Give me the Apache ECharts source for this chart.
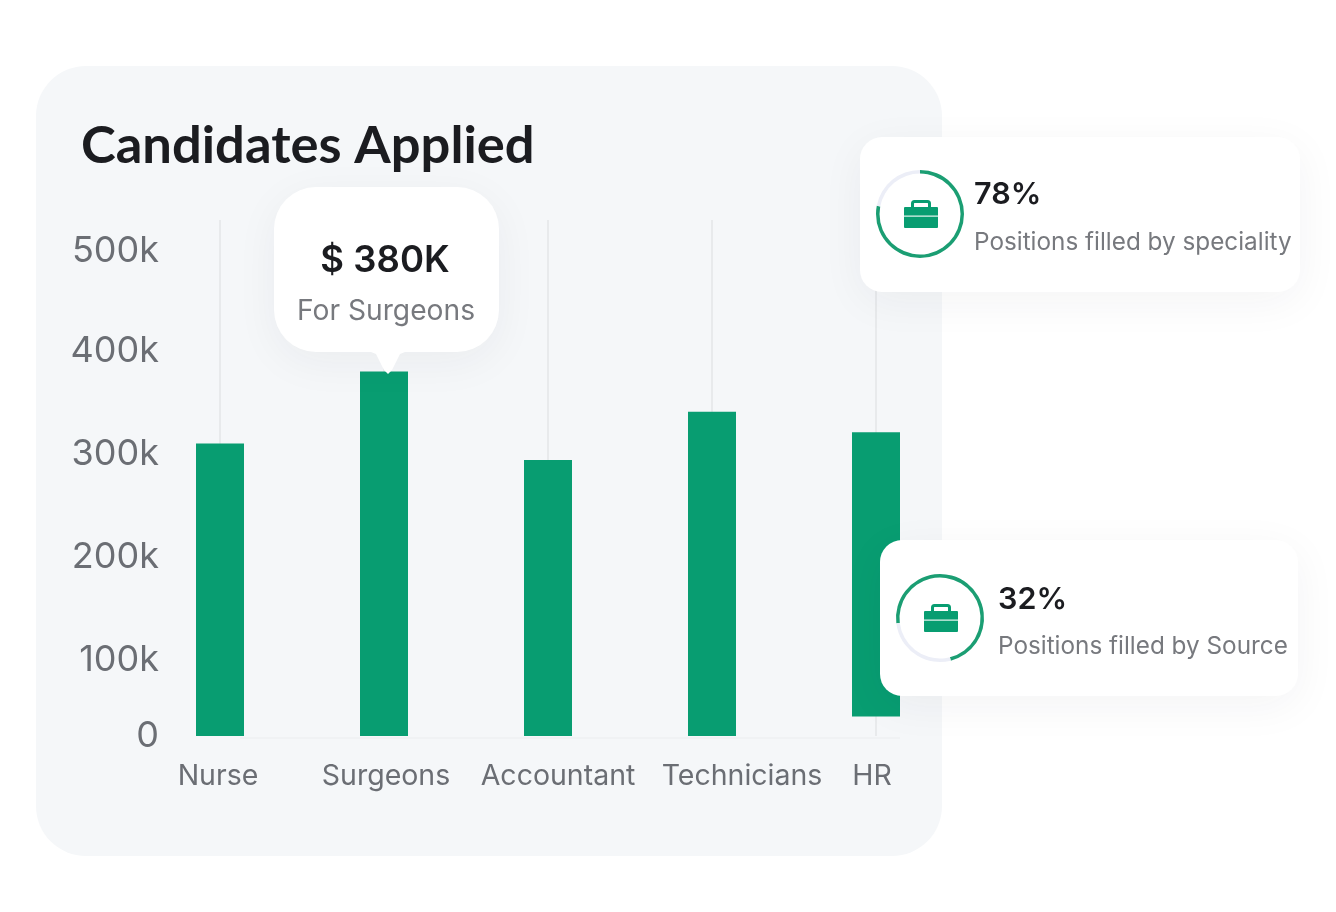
<!DOCTYPE html>
<html>
<head>
<meta charset="utf-8">
<title>Candidates Applied</title>
<script src="https://cdn.jsdelivr.net/npm/echarts@6/dist/echarts.min.js"></script>
<style>
    html, body { margin: 0; padding: 0; background: #fff; }
    #chart { width: 1336px; height: 912px; }
</style>
</head>
<body>
<div id="chart"></div>
<script>
// chart data (values in thousands)
const categories = ['Nurse', 'Surgeons', 'Accountant', 'Technicians', 'HR'];
const candidates = [310, 380, 294, 341, 276];
// the HR bar floats above the baseline in the original
const barOffset = [0, 0, 0, 0, 45];
// the original axis is not linear: its "0" sits at about 26k, its "500k" a little low
const yTickValues = [26, 100, 200, 300, 400, 497];
const yTickLabels = ['0', '100k', '200k', '300k', '400k', '500k'];

const calloutValue = '$ 380K';
const calloutLabel = 'For Surgeons';
const cardValues = ['78%', '32%'];
const cardLabels = ['Positions filled by speciality', 'Positions filled by Source'];
// share of the ring that is drawn green, as pictured
const ringShares = [78, 73];

const colors = {
    green: '#089d71',
    ring: '#1b9e73',
    ringTrack: '#eceef7',
    panel: '#f5f7f9',
    dark: '#1b1c20',
    grey: '#6b6e74',
    lightGrey: '#77797e',
    line: '#e8eaec'
};
const FONT = 'Inter';

const cardShadow = { shadowBlur: 44, shadowColor: 'rgba(30,40,60,0.05)', shadowOffsetY: 10 };

// 公文包图标
function briefcase(cx, top) {
    return [
        { type: 'rect', z: 110, silent: true, shape: { x: cx - 8.5, y: top + 1.5, width: 17, height: 8, r: 2 },
          style: { fill: 'none', stroke: colors.green, lineWidth: 3 } },
        { type: 'rect', z: 111, silent: true, shape: { x: cx - 17, y: top + 7, width: 34, height: 21, r: 1 },
          style: { fill: colors.green } },
        { type: 'rect', z: 112, silent: true, shape: { x: cx - 17, y: top + 15.5, width: 34, height: 1.2 },
          style: { fill: '#dff3ec' } }
    ];
}

function card(x, y, w, h, index, textX, valueY, labelY) {
    return [
        { type: 'rect', z: 100, silent: true, shape: { x: x, y: y, width: w, height: h, r: 22 },
          style: Object.assign({ fill: '#fff' }, cardShadow) },
        { type: 'text', z: 110, silent: true, x: textX, y: valueY,
          style: { text: cardValues[index], fill: colors.dark, font: '600 30.5px ' + FONT, verticalAlign: 'middle' } },
        { type: 'text', z: 110, silent: true, x: textX, y: labelY,
          style: { text: cardLabels[index], fill: colors.lightGrey, font: '400 24.3px ' + FONT, verticalAlign: 'middle' } }
    ];
}

function ring(cx, cy, startAngle, share) {
    return {
        type: 'pie',
        z: 120,
        silent: true,
        center: [cx, cy],
        radius: [40.5, 44],
        startAngle: startAngle,
        clockwise: true,
        animation: false,
        label: { show: false },
        labelLine: { show: false },
        data: [
            { value: share, itemStyle: { color: colors.ring } },
            { value: 100 - share, itemStyle: { color: colors.ringTrack } }
        ]
    };
}

const option = {
    backgroundColor: '#fff',
    animation: false,
    title: {
        text: 'Candidates Applied',
        left: 76,
        top: 115,
        textStyle: { fontFamily: 'Lato', fontWeight: 700, fontSize: 52.5, color: colors.dark }
    },
    grid: { left: 138, width: 820, top: 248, height: 488 },
    xAxis: {
        type: 'category',
        // 标签位置与柱子并不完全对齐，这里单独调整
        data: categories.map(function (name, i) {
            const shift = [[0, 4], [4, 0], [20, 0], [60, 0], [0, 8]][i];
            return { value: name, textStyle: { padding: [0, shift[1], 0, shift[0]] } };
        }),
        axisLine: { show: false },
        axisTick: {
            show: true,
            inside: true,
            alignWithLabel: true,
            length: 516,
            lineStyle: { color: colors.line, width: 2 }
        },
        axisLabel: { interval: 0, margin: 26, fontFamily: FONT, fontSize: 28.5, color: colors.grey }
    },
    yAxis: {
        type: 'value',
        min: 26,
        max: 500,
        axisLine: { show: false },
        axisTick: { show: false },
        splitLine: { show: false },
        axisLabel: {
            customValues: yTickValues,
            margin: -21,
            padding: [4, 0, 0, 0],
            fontFamily: FONT,
            fontSize: 36,
            color: colors.grey,
            formatter: function (value) {
                return yTickLabels[yTickValues.indexOf(value)];
            }
        }
    },
    series: [
        {
            name: 'offset',
            type: 'bar',
            stack: 'candidates',
            barWidth: 48,
            silent: true,
            itemStyle: { color: 'transparent' },
            data: barOffset
        },
        {
            name: 'Candidates',
            type: 'bar',
            stack: 'candidates',
            barWidth: 48,
            itemStyle: { color: colors.green },
            data: candidates
        },
        ring(920, 214, 90, ringShares[0]),
        ring(940, 618, 187, ringShares[1])
    ],
    graphic: {
        elements: [
            // 背景面板
            { type: 'rect', z: -1, silent: true, shape: { x: 36, y: 66, width: 906, height: 790, r: 50 },
              style: { fill: colors.panel } },
            // 淡色基线
            { type: 'line', z: -1, silent: true, shape: { x1: 240, y1: 738, x2: 900, y2: 738 },
              style: { stroke: '#f0f2f4', lineWidth: 2 } },
            // 气泡
            { type: 'rect', z: 100, silent: true, shape: { x: 274, y: 187, width: 225, height: 165, r: 42 },
              style: Object.assign({ fill: '#fff' }, cardShadow) },
            { type: 'polygon', z: 101, silent: true,
              shape: { points: [[366, 350], [376, 354], [384, 370], [388, 374], [392, 370], [400, 354], [410, 350]] },
              style: { fill: '#fff' } },
            { type: 'text', z: 110, silent: true, x: 385, y: 261,
              style: { text: calloutValue, fill: colors.dark, font: '600 36.5px ' + FONT, align: 'center', verticalAlign: 'middle' } },
            { type: 'text', z: 110, silent: true, x: 386, y: 312,
              style: { text: calloutLabel, fill: colors.lightGrey, font: '400 28.2px ' + FONT, align: 'center', verticalAlign: 'middle' } }
        ].concat(
            card(860, 137, 440, 155, 0, 974, 195, 243),
            briefcase(921, 200),
            card(880, 540, 418, 156, 1, 998, 600, 647),
            briefcase(941, 604)
        )
    }
};

const chart = echarts.init(document.getElementById('chart'));
chart.setOption(option);
</script>
</body>
</html>
